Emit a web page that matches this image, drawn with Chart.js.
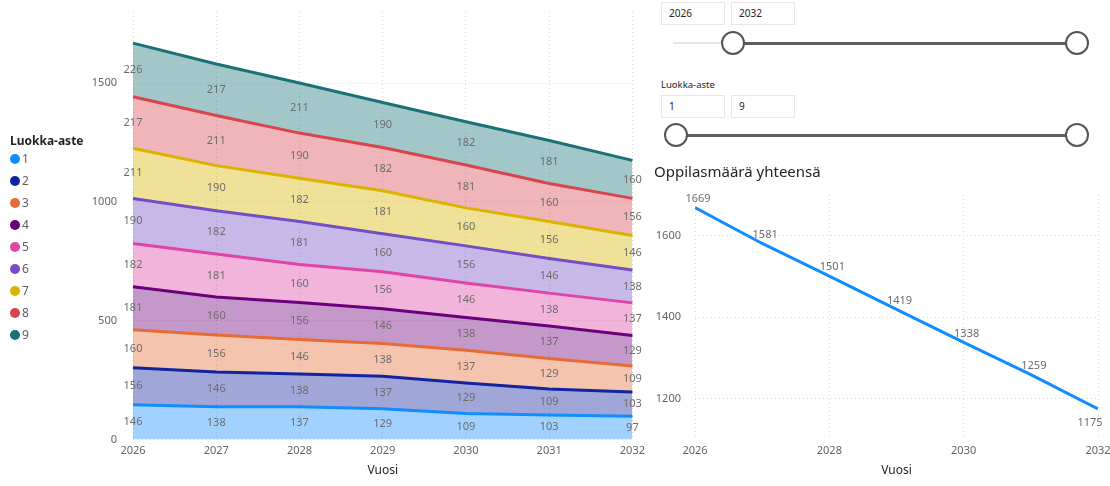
<!DOCTYPE html>
<html>
<head>
<meta charset="utf-8">
<script src="https://cdn.jsdelivr.net/npm/chart.js@4.4.1/dist/chart.umd.min.js"></script>
<style>
  body { margin: 0; background: #fff; width: 1110px; height: 486px; overflow: hidden; position: relative; font-family: "Noto Sans", sans-serif; }
  #areaWrap { position: absolute; left: 0; top: 0; width: 650px; height: 486px; }
  #lineWrap { position: absolute; left: 650px; top: 158px; width: 460px; height: 328px; }
  #legend { position: absolute; left: 10px; top: 132px; color: #605e5c; font-size: 12px; }
  #legend .title { font-weight: bold; color: #252423; height: 18px; line-height: 18px; margin-bottom: 2px; }
  #legend .item { height: 22px; line-height: 14px; display: flex; align-items: flex-start; }
  #legend .dot { width: 10px; height: 10px; border-radius: 50%; margin: 2px 2px 0 0; }
  .box { position: absolute; width: 64px; height: 23px; border: 1px solid #e8e8e8; font-size: 10px; color: #252423; line-height: 21px; padding-left: 7px; box-sizing: border-box; }
  .track { position: absolute; height: 3px; background: #605e5c; }
  .track.thin { height: 2px; background: #e6e6e6; }
  .knob { position: absolute; width: 20px; height: 20px; border: 2px solid #555; border-radius: 50%; background: #fff; }
  .lbl { position: absolute; font-size: 9.5px; color: #252423; }
</style>
</head>
<body>
<div id="areaWrap"><canvas id="areaChart"></canvas></div>
<div id="legend"><div class="title">Luokka-aste</div></div>
<div id="lineWrap"><canvas id="lineChart"></canvas></div>

<!-- slicers -->
<div class="box" style="left:661px;top:2px;">2026</div>
<div class="box" style="left:731px;top:2px;">2032</div>
<div class="track thin" style="left:673px;top:42px;width:60px;"></div>
<div class="track" style="left:733px;top:42px;width:344px;"></div>
<div class="knob" style="left:721px;top:31px;"></div>
<div class="knob" style="left:1065px;top:31px;"></div>

<div class="lbl" style="left:661px;top:78px;">Luokka-aste</div>
<div class="box" style="left:661px;top:95px;">1</div>
<div class="box" style="left:731px;top:95px;">9</div>
<div class="track" style="left:676px;top:134px;width:401px;"></div>
<div class="knob" style="left:664px;top:123px;"></div>
<div class="knob" style="left:1065px;top:123px;"></div>

<script>
// Years and students per grade (luokka-aste 1..9)
const years = ['2026', '2027', '2028', '2029', '2030', '2031', '2032'];
const grade1 = [146, 138, 137, 129, 109, 103, 97];
const grade2 = [156, 146, 138, 137, 129, 109, 103];
const grade3 = [160, 156, 146, 138, 137, 129, 109];
const grade4 = [181, 160, 156, 146, 138, 137, 129];
const grade5 = [182, 181, 160, 156, 146, 138, 137];
const grade6 = [190, 182, 181, 160, 156, 146, 138];
const grade7 = [211, 190, 182, 181, 160, 156, 146];
const grade8 = [217, 211, 190, 182, 181, 160, 156];
const grade9 = [226, 217, 211, 190, 182, 181, 160];
const gradeNames = ['1', '2', '3', '4', '5', '6', '7', '8', '9'];
const gradeColors = ['#118DFF', '#12239E', '#E66C37', '#6B007B', '#E044A7', '#744EC2', '#D9B300', '#D64550', '#197278'];
const areaTicks = [0, 500, 1000, 1500];

// Total per year
const totalYears = [2026, 2027, 2028, 2029, 2030, 2031, 2032];
const totals = [1669, 1581, 1501, 1419, 1338, 1259, 1175];
const lineYTicks = [1200, 1400, 1600];
const lineXTicks = [2026, 2028, 2030, 2032];

const FONT = '"Noto Sans", sans-serif';
const gridDots = { color: '#d6d6d6', lineWidth: 1, drawTicks: false };
const noBorder = { display: false, dash: [1, 3] };

function alpha(hex, a) {
    const n = parseInt(hex.slice(1), 16);
    return `rgba(${n >> 16},${(n >> 8) & 255},${n & 255},${a})`;
}

// legend built from the grade arrays
const legendEl = document.getElementById('legend');
gradeNames.forEach((name, i) => {
    const item = document.createElement('div');
    item.className = 'item';
    item.innerHTML = `<span class="dot" style="background:${gradeColors[i]}"></span>${name}`;
    legendEl.appendChild(item);
});

// labels in the middle of each stacked band
const bandLabels = {
    id: 'bandLabels',
    afterDatasetsDraw(chart) {
        const ctx = chart.ctx;
        ctx.save();
        ctx.font = '11px ' + FONT;
        ctx.fillStyle = '#6e6c6a';
        ctx.textAlign = 'center';
        ctx.textBaseline = 'middle';
        chart.data.datasets.forEach((ds, i) => {
            const meta = chart.getDatasetMeta(i);
            meta.data.forEach((pt, j) => {
                const below = i === 0 ? chart.scales.y.getPixelForValue(0) : chart.getDatasetMeta(i - 1).data[j].y;
                ctx.fillText(ds.data[j], pt.x, (pt.y + below) / 2);
            });
        });
        ctx.restore();
    }
};

// labels next to the line points
const pointLabels = {
    id: 'pointLabels',
    afterDatasetsDraw(chart) {
        const ctx = chart.ctx;
        const meta = chart.getDatasetMeta(0);
        ctx.save();
        ctx.font = '11px ' + FONT;
        ctx.fillStyle = '#6e6c6a';
        ctx.textAlign = 'center';
        ctx.textBaseline = 'middle';
        meta.data.forEach((pt, j) => {
            const last = j === meta.data.length - 1;
            const y = last ? pt.y + 14 : pt.y - 9;
            const x = last ? pt.x - 8 : pt.x + 3;
            ctx.fillText(String(totals[j]), x, y);
        });
        ctx.restore();
    }
};

const gradeData = [grade1, grade2, grade3, grade4, grade5, grade6, grade7, grade8, grade9];

new Chart(document.getElementById('areaChart'), {
    type: 'line',
    data: {
        labels: years,
        datasets: gradeData.map((vals, i) => ({
            label: gradeNames[i],
            data: vals,
            borderColor: gradeColors[i],
            backgroundColor: alpha(gradeColors[i], 0.4),
            borderWidth: 3,
            pointRadius: 0,
            tension: 0,
            fill: i === 0 ? 'origin' : '-1'
        }))
    },
    options: {
        responsive: true,
        maintainAspectRatio: false,
        animation: false,
        layout: { padding: { top: 12, right: 14, bottom: 8, left: 0 } },
        scales: {
            x: {
                offset: false,
                grid: gridDots,
                border: noBorder,
                ticks: { color: '#666462', font: { size: 11, family: FONT }, padding: 5, maxRotation: 0 },
                title: { display: true, text: 'Vuosi', color: '#252423', font: { size: 12, family: FONT }, padding: { top: 1, bottom: 0 } }
            },
            y: {
                stacked: true,
                min: 0,
                max: 1800,
                afterBuildTicks: axis => { axis.ticks = areaTicks.map(v => ({ value: v })); },
                afterFit: axis => { axis.width = 133; axis.paddingTop = 0; axis.paddingBottom = 0; },
                grid: gridDots,
                border: noBorder,
                ticks: { color: '#666462', font: { size: 11, family: FONT }, padding: 16, callback: v => String(v) }
            }
        },
        plugins: {
            tooltip: { enabled: false },
            legend: { display: false }
        }
    },
    plugins: [bandLabels]
});

new Chart(document.getElementById('lineChart'), {
    type: 'line',
    data: {
        datasets: [{
            label: 'Oppilasmäärä yhteensä',
            data: totalYears.map((y, i) => ({ x: y, y: totals[i] })),
            borderColor: '#118DFF',
            borderWidth: 3,
            pointRadius: 0,
            tension: 0,
            fill: false
        }]
    },
    options: {
        responsive: true,
        maintainAspectRatio: false,
        animation: false,
        layout: { padding: { top: 0, right: 12, bottom: 8, left: 4 } },
        scales: {
            x: {
                type: 'linear',
                min: 2026,
                max: 2032,
                afterBuildTicks: axis => { axis.ticks = lineXTicks.map(v => ({ value: v })); },
                afterFit: axis => { axis.paddingRight = 0; axis.paddingLeft = 0; },
                grid: gridDots,
                border: noBorder,
                ticks: { color: '#666462', font: { size: 11, family: FONT }, padding: 5, maxRotation: 0, callback: v => String(v) },
                title: { display: true, text: 'Vuosi', color: '#252423', font: { size: 12, family: FONT }, padding: { top: 1, bottom: 0 } }
            },
            y: {
                min: 1100,
                max: 1700,
                afterBuildTicks: axis => { axis.ticks = lineYTicks.map(v => ({ value: v })); },
                afterFit: axis => { axis.width = 41; },
                grid: gridDots,
                border: noBorder,
                ticks: { color: '#666462', font: { size: 11, family: FONT }, padding: 14, callback: v => String(v) }
            }
        },
        plugins: {
            tooltip: { enabled: false },
            legend: { display: false },
            title: {
                display: true,
                text: 'Oppilasmäärä yhteensä',
                align: 'start',
                color: '#252423',
                font: { size: 15, weight: 'normal', family: FONT },
                padding: { top: 6, bottom: 13 }
            }
        }
    },
    plugins: [pointLabels]
});
</script>
</body>
</html>
